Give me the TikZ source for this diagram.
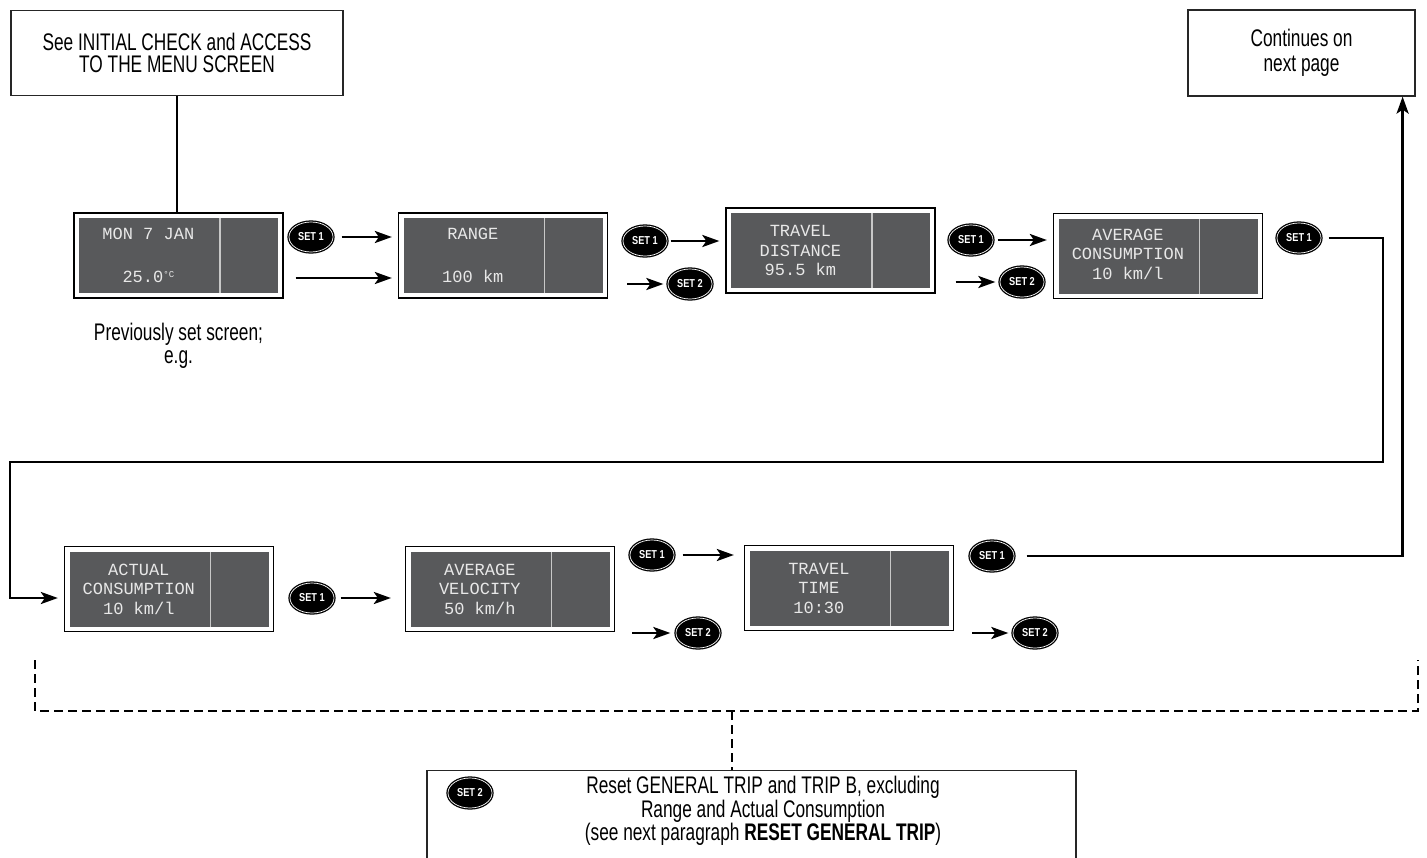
\documentclass[tikz,border=0pt]{standalone}
\usepackage{fontspec}
\setmainfont{Liberation Sans}[FakeStretch=0.72]
\newfontfamily\lcdfont{Liberation Mono}
\newfontfamily\btnfont{Liberation Sans}[FakeStretch=0.8]
\usetikzlibrary{arrows.meta,positioning,calc,shapes.geometric}
\definecolor{Lcd}{HTML}{58595B}
\definecolor{LcdText}{HTML}{E8E8E8}
\definecolor{Divider}{HTML}{C8C8C8}
\tikzset{
  infobox/.style={draw=black!85,line width=1.2pt,fill=white,align=center,inner sep=0pt,
    font=\fontsize{24}{22.5}\selectfont},
  screen/.style={draw=black,line width=1.3pt,fill=white,minimum width=209pt,
    minimum height=85pt,inner sep=0pt,
    path picture={
      \fill[Lcd] ([xshift=5pt,yshift=-5pt]path picture bounding box.north west)
        rectangle ([xshift=-5pt,yshift=5pt]path picture bounding box.south east);
      \draw[Divider,line width=1.5pt] ([xshift=146pt,yshift=-5pt]path picture bounding box.north west)
        -- ([xshift=146pt,yshift=5pt]path picture bounding box.south west);
    }},
  lcdtext/.style={text=LcdText,align=center,inner sep=0pt,font=\lcdfont\fontsize{17}{19.5}\selectfont},
  setbtn/.style={ellipse,fill=black,draw=black,double=white,double distance=.7pt,line width=1.3pt,
    minimum width=44pt,minimum height=30pt,inner sep=0pt,text=white,
    font=\btnfont\bfseries\fontsize{11.5}{11.5}\selectfont},
  arrow/.style={-{Stealth[length=17pt,width=12pt,inset=4pt]},line width=2.7pt},
  link/.style={line width=2.7pt},
  dashlink/.style={line width=2.5pt,dash pattern=on 9pt off 5pt}
}
\begin{document}
\begin{tikzpicture}[x=1pt,y=-1pt]
  \useasboundingbox (0,0) rectangle (1427,857);
  \clip (0,0) rectangle (1427,857);
  % boxes with plain text
  \node[infobox,minimum width=332pt,minimum height=85pt] (see) at (177,53) {See INITIAL CHECK and ACCESS\\TO THE MENU SCREEN};
  \node[infobox,minimum width=227pt,minimum height=86pt,font=\fontsize{24}{25}\selectfont] (cont) at (1301.5,53) {Continues on\\next page};
  \node[infobox,minimum width=649pt,minimum height=120pt,anchor=north] (reset) at (751.5,770) {};
  \node[align=center,inner sep=0pt,font=\fontsize{24}{22}\selectfont] (reset-t) at (763,811)
    {Reset GENERAL TRIP and TRIP B, excluding\\Range and Actual Consumption\\(see next paragraph {\bfseries RESET GENERAL TRIP})};
  \node[setbtn] (reset-s2) at (470,793) {SET 2};

  % screens, first row
  \node[screen] (mon) at (178.5,255.5) {};
  \node[screen] (range) at (503,255.5) {};
  \node[screen] (dist) at (830.5,250.5) {};
  \node[screen] (avgcons) at (1158,256) {};
  \node[lcdtext] (mon-t) at ([xshift=75pt]mon.west) {MON 7 JAN\\[23pt]25.0\raisebox{5pt}{\fontsize{9}{9}\selectfont °C}};
  \node[lcdtext] (range-t) at ([xshift=75pt]range.west) {RANGE\\[23pt]100 km};
  \node[lcdtext] (dist-t) at ([xshift=75pt]dist.west) {TRAVEL\\DISTANCE\\95.5 km};
  \node[lcdtext] (avgcons-t) at ([xshift=75pt,yshift=2pt]avgcons.west) {AVERAGE\\CONSUMPTION\\10 km/l};
  \node[below=24pt of mon,align=center,inner sep=0pt,font=\fontsize{24}{23.5}\selectfont] (prev) {Previously set screen;\\e.g.};

  % screens, second row
  \node[screen] (actcons) at (169,589) {};
  \node[screen] (avgvel) at (510,589) {};
  \node[screen] (ttime) at (849,588) {};
  \node[lcdtext] (actcons-t) at ([xshift=75pt]actcons.west) {ACTUAL\\CONSUMPTION\\10 km/l};
  \node[lcdtext] (avgvel-t) at ([xshift=75pt]avgvel.west) {AVERAGE\\VELOCITY\\50 km/h};
  \node[lcdtext] (ttime-t) at ([xshift=75pt]ttime.west) {TRAVEL\\TIME\\10:30};

  % buttons
  \node[setbtn] (mon-s1) at (311,237) {SET 1};
  \node[setbtn] (range-s1) at (645,241) {SET 1};
  \node[setbtn] (range-s2) at (690,284) {SET 2};
  \node[setbtn] (dist-s1) at (971,240) {SET 1};
  \node[setbtn] (dist-s2) at (1022,282) {SET 2};
  \node[setbtn] (avgcons-s1) at (1299,238) {SET 1};
  \node[setbtn] (actcons-s1) at (312,598) {SET 1};
  \node[setbtn] (avgvel-s1) at (652,555) {SET 1};
  \node[setbtn] (avgvel-s2) at (698,633) {SET 2};
  \node[setbtn] (ttime-s1) at (992,556) {SET 1};
  \node[setbtn] (ttime-s2) at (1035,633) {SET 2};

  \coordinate (turnR) at (1383,462);
  \coordinate (turnL) at (10,462);
  \coordinate (entry) at ([yshift=-9pt]actcons.west);
  \coordinate (upend) at ([xshift=-13pt]cont.south east);
  \coordinate (dl) at (35,660);
  \coordinate (dr) at (1418,660);
  \coordinate (dbl) at (35,711);
  \coordinate (dbr) at (1418,711);
  \coordinate (dm) at (732,711);

  % connectors
  \draw[link] (see.south) -- (see.south |- mon.north);
  \draw[arrow,shorten <=8pt,shorten >=6pt] (mon-s1) -- (mon-s1 -| range.west);
  \draw[arrow,shorten <=12pt,shorten >=6pt] ([yshift=-22.5pt]mon.east) -- ([yshift=-22.5pt]range.west);
  \draw[arrow,shorten <=3pt,shorten >=6pt] (range-s1) -- (range-s1 -| dist.west);
  \draw[arrow,shorten <=19pt,shorten >=4pt] (range.east |- range-s2) -- (range-s2);
  \draw[arrow,shorten <=4pt,shorten >=6pt] (dist-s1) -- (dist-s1 -| avgcons.west);
  \draw[arrow,shorten <=20pt,shorten >=4pt] (dist.east |- dist-s2) -- (dist-s2);
  \draw[arrow,shorten <=7pt,shorten >=6pt] (avgcons-s1) -- (avgcons-s1 -| turnR) -- (turnR) -- (turnL) -- (turnL |- entry) -- (entry);
  \draw[arrow,shorten <=6pt,shorten >=14pt] (actcons-s1) -- (actcons-s1 -| avgvel.west);
  \draw[arrow,shorten <=8pt,shorten >=10pt] (avgvel-s1) -- (avgvel-s1 -| ttime.west);
  \draw[arrow,shorten <=17pt,shorten >=5pt] (avgvel.east |- avgvel-s2) -- (avgvel-s2);
  \draw[arrow,shorten <=12pt] (ttime-s1) -- (ttime-s1 -| upend) -- (upend);
  \draw[arrow,shorten <=18pt,shorten >=4pt] (ttime.east |- ttime-s2) -- (ttime-s2);
  \draw[dashlink] (dl) -- (dbl) -- (dbr) -- (dr);
  \draw[dashlink] (dm) -- (dm |- reset.north);
\end{tikzpicture}
\end{document}
